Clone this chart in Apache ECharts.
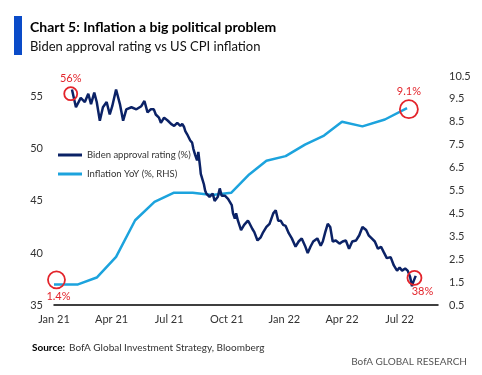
<!DOCTYPE html>
<html>
<head>
<meta charset="utf-8">
<script src="https://cdn.jsdelivr.net/npm/echarts@6/dist/echarts.min.js"></script>
<style>
html, body { margin: 0; padding: 0; background: #fff; }
#chart { width: 482px; height: 375px; }
</style>
</head>
<body>
<div id="chart"></div>
<script>
// quarter tick labels on the x axis (one every 3 months from Jan 2021)
const xTickLabels = ['Jan 21', 'Apr 21', 'Jul 21', 'Oct 21', 'Jan 22', 'Apr 22', 'Jul 22'];

// Biden approval rating (%), left axis
const approval = [
    ['2021-01-30', 55.7], ['2021-02-05', 54.0], ['2021-02-12', 54.9], ['2021-02-18', 54.5],
    ['2021-02-23', 55.3], ['2021-02-27', 54.3], ['2021-03-04', 55.4], ['2021-03-08', 54.5],
    ['2021-03-13', 52.7], ['2021-03-18', 54.0], ['2021-03-24', 54.5], ['2021-03-29', 53.3],
    ['2021-04-02', 54.1], ['2021-04-08', 55.7], ['2021-04-14', 54.3], ['2021-04-19', 52.7],
    ['2021-04-24', 53.8], ['2021-05-02', 54.0], ['2021-05-10', 53.8], ['2021-05-18', 54.1],
    ['2021-05-23', 54.6], ['2021-05-28', 53.5], ['2021-06-02', 53.8], ['2021-06-07', 53.8],
    ['2021-06-10', 53.3], ['2021-06-15', 53.0], ['2021-06-18', 52.5], ['2021-06-23', 53.0],
    ['2021-06-29', 52.7], ['2021-07-04', 52.4], ['2021-07-06', 52.5], ['2021-07-09', 52.2],
    ['2021-07-14', 52.5], ['2021-07-19', 52.2], ['2021-07-22', 52.4], ['2021-07-25', 52.1],
    ['2021-07-27', 51.7], ['2021-07-30', 51.4], ['2021-08-01', 51.3], ['2021-08-04', 50.8],
    ['2021-08-07', 50.6], ['2021-08-09', 50.0], ['2021-08-12', 49.4], ['2021-08-15', 48.9],
    ['2021-08-17', 49.7], ['2021-08-20', 48.2], ['2021-08-21', 47.6], ['2021-08-24', 47.0],
    ['2021-08-26', 46.6], ['2021-08-28', 46.0], ['2021-08-30', 45.7], ['2021-09-04', 45.4],
    ['2021-09-09', 45.7], ['2021-09-12', 45.0], ['2021-09-17', 45.4], ['2021-09-20', 46.2],
    ['2021-09-23', 45.5], ['2021-09-28', 45.5], ['2021-10-03', 45.2], ['2021-10-09', 44.6],
    ['2021-10-11', 43.8], ['2021-10-14', 43.3], ['2021-10-16', 43.8], ['2021-10-19', 43.1],
    ['2021-10-24', 42.2], ['2021-10-29', 42.7], ['2021-11-04', 43.1], ['2021-11-06', 42.9],
    ['2021-11-11', 42.3], ['2021-11-14', 42.0], ['2021-11-19', 41.2], ['2021-11-24', 41.5],
    ['2021-11-27', 41.9], ['2021-12-03', 42.5], ['2021-12-08', 42.8], ['2021-12-11', 42.7],
    ['2021-12-14', 43.8], ['2021-12-18', 44.1], ['2021-12-22', 43.1], ['2021-12-26', 43.1],
    ['2021-12-30', 42.7], ['2022-01-03', 42.6], ['2022-01-08', 41.9], ['2022-01-13', 41.4],
    ['2022-01-19', 40.6], ['2022-01-24', 41.1], ['2022-01-29', 41.4], ['2022-02-03', 40.7],
    ['2022-02-07', 40.0], ['2022-02-11', 40.6], ['2022-02-15', 41.1], ['2022-02-21', 41.4],
    ['2022-02-26', 40.7], ['2022-03-01', 41.1], ['2022-03-05', 42.0], ['2022-03-09', 42.8],
    ['2022-03-13', 42.5], ['2022-03-17', 41.1], ['2022-03-22', 41.2], ['2022-03-28', 40.9],
    ['2022-04-02', 41.1], ['2022-04-07', 41.2], ['2022-04-12', 40.4], ['2022-04-17', 41.1],
    ['2022-04-23', 41.2], ['2022-04-28', 41.7], ['2022-05-03', 42.5], ['2022-05-09', 42.2],
    ['2022-05-13', 41.7], ['2022-05-18', 41.4], ['2022-05-23', 41.1], ['2022-05-28', 40.4],
    ['2022-06-02', 40.6], ['2022-06-06', 40.1], ['2022-06-11', 39.5], ['2022-06-17', 39.6],
    ['2022-06-22', 38.8], ['2022-06-27', 38.3], ['2022-07-01', 38.6], ['2022-07-05', 38.3],
    ['2022-07-10', 38.5], ['2022-07-14', 38.3], ['2022-07-18', 37.7], ['2022-07-21', 36.8],
    ['2022-07-23', 37.2], ['2022-07-27', 37.8]
];

// US CPI inflation YoY (%), right axis
const inflation = [
    ['2021-01-01', 1.4], ['2021-02-08', 1.4], ['2021-03-08', 1.7], ['2021-04-08', 2.6],
    ['2021-05-08', 4.2], ['2021-06-08', 5.0], ['2021-07-08', 5.4], ['2021-08-08', 5.4],
    ['2021-09-08', 5.3], ['2021-10-08', 5.4], ['2021-11-06', 6.2], ['2021-12-03', 6.8],
    ['2022-01-03', 7.0], ['2022-02-03', 7.5], ['2022-03-03', 7.9], ['2022-04-01', 8.5],
    ['2022-05-03', 8.3], ['2022-06-08', 8.6], ['2022-07-13', 9.1]
];

// red circled call-outs: [date, value, text]
const approvalCallouts = [['2021-01-28', 55.3, '56%'], ['2022-07-25', 37.6, '38%']];
const inflationCallouts = [['2021-01-05', 1.6, '1.4%'], ['2022-07-16', 9.05, '9.1%']];

// months since 1 Jan 2021, so the quarter ticks sit every 3 units
function monthIndex(s) {
    const p = s.split('-').map(Number);
    const dim = new Date(p[0], p[1], 0).getDate();
    return (p[0] - 2021) * 12 + (p[1] - 1) + (p[2] - 1) / dim;
}

const red = '#e3242b';
const labelColor = '#333';
const font = 'Lato';

function callout(c, size, pos, offset) {
    return {
        coord: [monthIndex(c[0]), c[1]],
        symbolSize: size,
        label: {show: true, formatter: c[2], position: pos, offset: offset || [0, 0], distance: 2,
                color: red, fontSize: 11, fontFamily: font}
    };
}

const chart = echarts.init(document.getElementById('chart'));

const option = {
    animation: false,
    textStyle: {fontFamily: font},
    grid: {left: 54, right: 44, top: 76, bottom: 70},
    legend: {
        orient: 'vertical',
        left: 53,
        top: 145,
        icon: 'rect',
        itemWidth: 24,
        itemHeight: 3,
        itemGap: 9,
        textStyle: {fontSize: 9.5, color: labelColor, fontFamily: font},
        data: ['Biden approval rating (%)', 'Inflation YoY (%, RHS)']
    },
    xAxis: {
        type: 'value',
        min: 0,
        max: 20,
        interval: 3,
        axisLine: {lineStyle: {color: '#000', width: 1.5}},
        axisTick: {show: false},
        splitLine: {show: false},
        axisLabel: {
            color: labelColor, fontSize: 11, margin: 9, showMaxLabel: false,
            formatter: v => (v % 3 === 0 && xTickLabels[v / 3]) || ''
        }
    },
    yAxis: [
        {
            type: 'value', min: 35, max: 57, interval: 5,
            axisLine: {show: false}, axisTick: {show: false}, splitLine: {show: false},
            axisLabel: {color: labelColor, fontSize: 11, margin: 11, showMaxLabel: false,
                        formatter: v => (v % 5 === 0 ? String(v) : '')}
        },
        {
            type: 'value', min: 0.5, max: 10.5, interval: 0.5,
            axisLine: {show: false}, axisTick: {show: false}, splitLine: {show: false},
            axisLabel: {color: labelColor, fontSize: 11, margin: 11,
                        formatter: v => (Math.round(v * 2) % 2 === 1 ? v.toFixed(1) : '')}
        }
    ],
    series: [
        {
            name: 'Biden approval rating (%)',
            type: 'line',
            showSymbol: false,
            color: '#0b2266',
            lineStyle: {width: 2.5, color: '#0b2266'},
            data: approval.map(d => [monthIndex(d[0]), d[1]]),
            z: 3,
            markPoint: {
                symbol: 'circle',
                itemStyle: {color: 'rgba(0,0,0,0)', borderColor: red, borderWidth: 1.8},
                data: [
                    callout(approvalCallouts[0], 13, 'top'),
                    callout(approvalCallouts[1], 14, 'bottom', [8, -2])
                ]
            }
        },
        {
            name: 'Inflation YoY (%, RHS)',
            type: 'line',
            yAxisIndex: 1,
            showSymbol: false,
            color: '#1ca3dd',
            lineStyle: {width: 2.5, color: '#1ca3dd'},
            data: inflation.map(d => [monthIndex(d[0]), d[1]]),
            z: 2,
            markPoint: {
                symbol: 'circle',
                itemStyle: {color: 'rgba(0,0,0,0)', borderColor: red, borderWidth: 1.8},
                data: [
                    callout(inflationCallouts[0], 17, 'bottom', [2, 0]),
                    callout(inflationCallouts[1], 18, 'top')
                ]
            }
        }
    ],
    graphic: [
        {type: 'rect', left: 14, top: 16, shape: {width: 8, height: 39}, style: {fill: '#0a4bc8'}},
        {type: 'text', left: 30, top: 20,
         style: {text: 'Chart 5: Inflation a big political problem', font: 'bold 14px Lato', fill: '#000'}},
        {type: 'text', left: 30, top: 40,
         style: {text: 'Biden approval rating vs US CPI inflation', font: '13px Lato', fill: '#111'}},
        {type: 'text', left: 32, top: 343,
         style: {text: 'Source:', font: 'bold 10px Lato', fill: '#000'}},
        {type: 'text', left: 69, top: 343,
         style: {text: 'BofA Global Investment Strategy, Bloomberg', font: '10px Lato', fill: '#333'}},
        {type: 'text', right: 15, top: 357,
         style: {text: 'BofA GLOBAL RESEARCH', font: '10px Lato', fill: '#555'}}
    ]
};

chart.setOption(option);

window.addEventListener('resize', function () {
    chart.resize();
});
</script>
</body>
</html>
